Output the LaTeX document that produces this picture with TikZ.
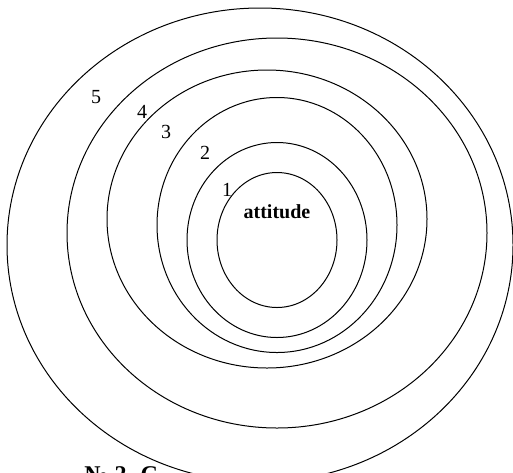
\documentclass[tikz,border=0pt]{standalone}
\usepackage{fontspec}
\setmainfont{Liberation Serif}
\usetikzlibrary{positioning}

\begin{document}
\begin{tikzpicture}[
    x=0.5pt, y=-0.5pt,
    every node/.style={font=\normalsize, inner sep=1pt},
    ring/.style={draw, line width=0.5pt},
    ringnum/.style={font=\normalsize},
    corelabel/.style={font=\normalsize\bfseries},
    caption/.style={font=\large\bfseries, anchor=north west}
]
\useasboundingbox (0,0) rectangle (513,472);
\clip (0,0) rectangle (513,472);
\node[caption] (cap) at (82,464) {№ 2. C};
\draw[ring, fill=white] (260,245) ellipse (253 and 237);
\draw[ring] (277,233) ellipse (210 and 195);
\draw[ring] (267,219) ellipse (160 and 149);
\draw[ring] (277,225) ellipse (120 and 127.5);
\draw[ring] (277,240) ellipse (90 and 97.5);
\draw[ring] (277,240) ellipse (60 and 67.5);
\node[ringnum] (n5) at (96,97) {5};
\node[ringnum] (n4) at (142,112) {4};
\node[ringnum] (n3) at (166,132) {3};
\node[ringnum] (n2) at (205,153) {2};
\node[ringnum] (n1) at (227,190) {1};
\node[corelabel] (core) at (277,212) {attitude};
\end{tikzpicture}
\end{document}
